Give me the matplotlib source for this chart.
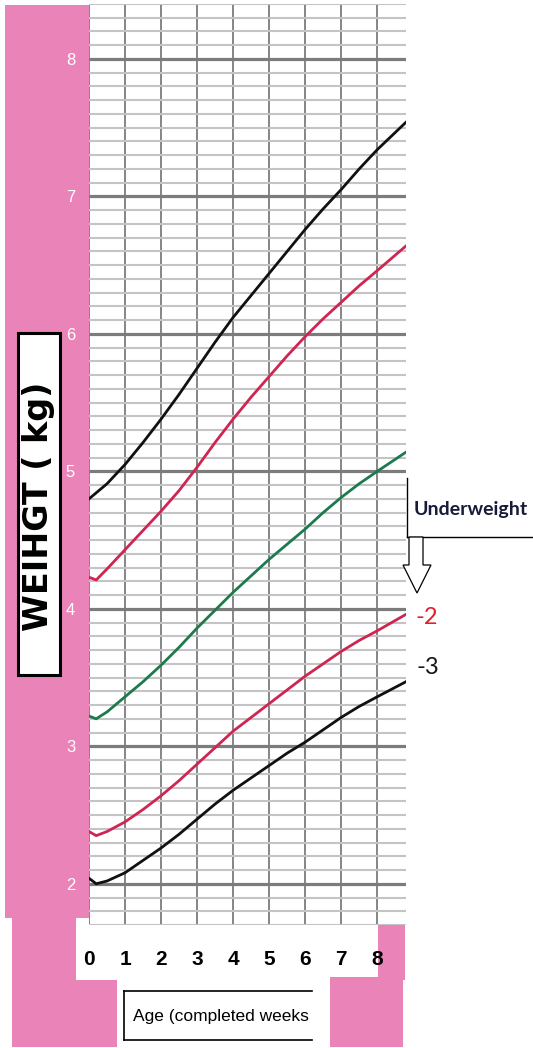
import matplotlib
matplotlib.use("Agg")
import matplotlib.pyplot as plt
from matplotlib import font_manager
from matplotlib.patches import Rectangle, Polygon
from matplotlib.lines import Line2D

# ---------------- data ----------------
weeks_top = [0, 0.5, 1, 1.5, 2, 2.5, 3, 3.5, 4, 4.5, 5, 5.5, 6, 6.5, 7, 7.5, 8, 8.8]
plus2 = [4.80, 4.91, 5.05, 5.21, 5.38, 5.56, 5.75, 5.94, 6.12, 6.28, 6.44, 6.60, 6.76, 6.91,
         7.05, 7.20, 7.34, 7.54]

weeks = [0, 0.2, 0.5, 1, 1.5, 2, 2.5, 3, 3.5, 4, 4.5, 5, 5.5, 6, 6.5, 7, 7.5, 8, 8.8]
plus1 = [4.23, 4.21, 4.29, 4.43, 4.57, 4.71, 4.86, 5.03, 5.21, 5.38, 5.54, 5.69, 5.84, 5.98,
         6.11, 6.23, 6.35, 6.46, 6.64]
median = [3.22, 3.20, 3.25, 3.36, 3.47, 3.59, 3.72, 3.86, 3.99, 4.12, 4.24, 4.36, 4.47, 4.58,
          4.70, 4.81, 4.91, 5.00, 5.14]
minus2 = [2.38, 2.35, 2.38, 2.45, 2.54, 2.64, 2.75, 2.87, 2.99, 3.11, 3.21, 3.31, 3.41, 3.51,
          3.60, 3.69, 3.77, 3.84, 3.96]
minus3 = [2.04, 2.00, 2.02, 2.08, 2.17, 2.26, 2.36, 2.47, 2.58, 2.68, 2.77, 2.86, 2.95, 3.03,
          3.12, 3.21, 3.29, 3.36, 3.47]

x_ticks = [0, 1, 2, 3, 4, 5, 6, 7, 8]
x_labels = ["0", "1", "2", "3", "4", "5", "6", "7", "8"]
y_ticks = [2, 3, 4, 5, 6, 7, 8]
y_labels = ["2", "3", "4", "5", "6", "7", "8"]
y_minor = [k / 10 for k in range(17, 85)]

ylabel_text = "WEIHGT ( kg)"
xlabel_text = "Age (completed weeks"
note_text = "Underweight"
label_m2 = "-2"
label_m3 = "-3"

# ---------------- fonts ----------------
def pick(names):
    for n in names:
        try:
            font_manager.findfont(font_manager.FontProperties(family=n), fallback_to_default=False)
            return n
        except Exception:
            continue
    return "DejaVu Sans"

narrow = pick(["Liberation Sans Narrow", "DejaVu Sans Condensed", "Liberation Sans"])
calib = pick(["Lato", "Open Sans", "DejaVu Sans"])

# ---------------- figure ----------------
W, H = 533, 1048
fig = plt.figure(figsize=(W / 100, H / 100), dpi=100)
fig.patch.set_facecolor("white")

PINK = "#E983B8"

def fx(x):
    return x / W

def fy(y):
    return 1 - y / H

def prect(x0, y0, x1, y1, **kw):
    r = Rectangle((fx(x0), fy(y1)), (x1 - x0) / W, (y1 - y0) / H,
                  transform=fig.transFigure, **kw)
    fig.patches.append(r)
    return r

# pink decoration
for (x0, y0, x1, y1) in [(5, 5, 89, 918), (12, 918, 76, 1047), (12, 980, 117, 1047),
                         (378, 925, 405, 980), (330, 977, 403, 1047)]:
    prect(x0, y0, x1, y1, facecolor=PINK, edgecolor="none", zorder=0)

# axes
ax_left, ax_right, ax_top, ax_bot = 89, 406, 4, 925
ax = fig.add_axes([fx(ax_left), fy(ax_bot), (ax_right - ax_left) / W, (ax_bot - ax_top) / H])
ax.set_zorder(1)
ax.set_facecolor("white")
ax.set_xlim(0, 8.8)
ax.set_ylim(8 - (ax_bot - 58) / 138, 8 + (58 - ax_top) / 138)
for s in ax.spines.values():
    s.set_visible(False)

ax.set_xticks(x_ticks)
ax.set_xticklabels(x_labels)
ax.set_yticks(y_ticks)
ax.set_yticklabels(y_labels)
ax.set_yticks(y_minor, minor=True)
ax.set_axisbelow(True)
ax.yaxis.grid(True, which="minor", color="#c4c4c4", lw=1.5)
ax.yaxis.grid(True, which="major", color="#7c7c7c", lw=2.3)
ax.xaxis.grid(True, which="major", color="#858585", lw=1.4)
ax.tick_params(axis="both", which="both", length=0)
ax.tick_params(axis="y", colors="white", pad=10, labelsize=12)
ax.tick_params(axis="x", pad=18, labelsize=15)
for t in ax.get_yticklabels():
    t.set_family(narrow)
for t in ax.get_xticklabels():
    t.set_family(narrow)
    t.set_fontweight("bold")

lw = 2.0
ax.plot(weeks_top, plus2, color="#111111", lw=lw, zorder=3)
ax.plot(weeks, plus1, color="#CF2552", lw=lw, zorder=3)
ax.plot(weeks, median, color="#1C7A4E", lw=lw, zorder=3)
ax.plot(weeks, minus2, color="#CF2552", lw=lw, zorder=3)
ax.plot(weeks, minus3, color="#111111", lw=lw, zorder=3)

# y label box
prect(18, 333, 60, 675, facecolor="white", edgecolor="black", lw=2.2, zorder=2)
fig.text(fx(39), fy(506), ylabel_text, rotation=90, ha="center", va="center",
         fontsize=24, fontweight="bold", family="DejaVu Sans", color="black", zorder=3)

# x label box (open on right)
prect(124, 991, 312, 1040, facecolor="white", edgecolor="none", zorder=1)
for xs, ys in [([124, 312], [991, 991]), ([124, 312], [1040, 1040]), ([124, 124], [991, 1040])]:
    fig.lines.append(Line2D([fx(v) for v in xs], [fy(v) for v in ys], transform=fig.transFigure,
                            color="black", lw=1.2, zorder=2))
fig.text(fx(133), fy(1016), xlabel_text, ha="left", va="center", fontsize=12.5,
         family=narrow, color="black", zorder=3)

# Underweight box
for xs, ys in [([407, 533], [537, 537]), ([407, 407], [478, 537])]:
    fig.lines.append(Line2D([fx(v) for v in xs], [fy(v) for v in ys], transform=fig.transFigure,
                            color="black", lw=1.0, zorder=2))
fig.text(fx(471), fy(509), note_text, ha="center", va="center", fontsize=14,
         fontweight="bold", family=calib, color="#161B3A", zorder=3)

# hollow arrow
arrow_pts = [(409, 537), (423, 537), (423, 565), (431, 565), (417, 593), (403, 565), (409, 565)]
fig.patches.append(Polygon([(fx(a), fy(b)) for a, b in arrow_pts], closed=True,
                           transform=fig.transFigure, facecolor="white", edgecolor="black",
                           lw=0.9, zorder=2))

fig.text(fx(427), fy(617), label_m2, ha="center", va="center", fontsize=17,
         family=calib, color="#E0202C", zorder=3)
fig.text(fx(428), fy(668), label_m3, ha="center", va="center", fontsize=17,
         family=calib, color="#151515", zorder=3)

fig.savefig("out.png", dpi=100, facecolor="white")
